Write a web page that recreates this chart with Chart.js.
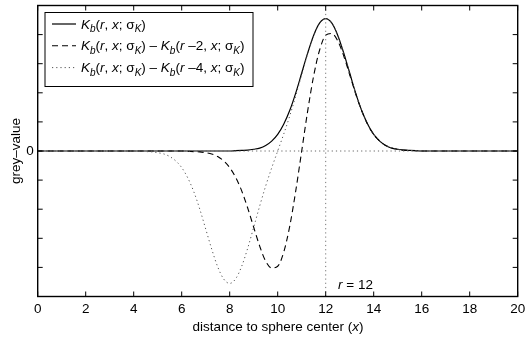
<!DOCTYPE html>
<html>
<head>
<meta charset="utf-8">
<script src="https://cdn.jsdelivr.net/npm/chart.js@4.4.0/dist/chart.umd.min.js"></script>
<style>
  html, body { margin: 0; padding: 0; background: #fff; }
  canvas { display: block; }
</style>
</head>
<body>
<canvas id="Profile_Chart" width="525" height="337"></canvas>
<script>
// values
const xs = [0, 4, 4.25, 4.5, 4.75, 5, 5.25, 5.5, 5.75, 6, 6.25, 6.5, 6.75, 7, 7.25, 7.5, 7.75, 8,
  8.25, 8.5, 8.75, 9, 9.25, 9.5, 9.75, 10, 10.25, 10.5, 10.75, 11, 11.25, 11.5, 11.75, 12,
  12.25, 12.5, 12.75, 13, 13.25, 13.5, 13.75, 14, 14.25, 14.5, 14.75, 15, 15.25, 15.5, 15.75, 16, 20];
const solid = [0, 0, 0, 0, 0, 0, 0, 0, 0, 0, 0, 0, 0, 0, 0, 0, 0, 0,
  0.01, 0.02, 0.03, 0.06, 0.10, 0.19, 0.34, 0.57, 0.92, 1.39, 1.99, 2.68, 3.37, 3.98, 4.40, 4.55,
  4.40, 3.98, 3.37, 2.68, 1.99, 1.39, 0.92, 0.57, 0.34, 0.19, 0.10, 0.06, 0.03, 0.02, 0.01, 0, 0];
const dashed = [0, 0, 0, 0, 0, 0, 0, 0, 0, 0, -0.01, -0.02, -0.03, -0.06, -0.10, -0.19, -0.34, -0.57,
  -0.91, -1.37, -1.96, -2.62, -3.27, -3.79, -4.02, -3.96, -3.48, -2.59, -1.38, 0, 1.38, 2.59, 3.48, 3.98,
  4.04, 3.79, 3.27, 2.62, 1.96, 1.38, 0.91, 0.57, 0.34, 0.19, 0.10, 0.06, 0.03, 0.02, 0.01, 0, 0];
const dotted = [0, 0, -0.01, -0.02, -0.03, -0.06, -0.10, -0.19, -0.34, -0.57, -0.92, -1.39, -1.99, -2.68, -3.37, -3.98, -4.40, -4.55,
  -4.39, -3.96, -3.34, -2.62, -1.89, -1.20, -0.58, 0, 0.58, 1.20, 1.89, 2.62, 3.34, 3.96, 4.39, 4.55,
  4.40, 3.98, 3.37, 2.68, 1.99, 1.39, 0.92, 0.57, 0.34, 0.19, 0.10, 0.06, 0.03, 0.02, 0.01, 0, 0];
const zeroLineX = [0, 20];
const zeroLineY = [0, 0];
const rLineX = [12, 12];
const rLineY = [-5, 5];
const xTicks = [0, 2, 4, 6, 8, 10, 12, 14, 16, 18, 20];
const yLabelTicks = [0];

const FONT = '"Liberation Sans", Arial, Helvetica, sans-serif';
const prof_chart = document.getElementById('Profile_Chart');

function pts(xv, yv) {
  return xv.map((x, i) => ({ x: x, y: yv[i] }));
}

// pieces: [text, italic, subscript]
const termA = [['K',1,0],['b',1,1],['(',0,0],['r',1,0],[', ',0,0],['x',1,0],['; ',0,0],['\u03c3',0,0],['K',1,1],[')',0,0]];
function termMinus(n) {
  return [[' \u2013 ',0,0],['K',1,0],['b',1,1],['(',0,0],['r',1,0],[' \u2013' + n + ', ',0,0],['x',1,0],['; ',0,0],['\u03c3',0,0],['K',1,1],[')',0,0]];
}
const legendRows = [
  { parts: termA, dash: [], color: '#000', width: 1.2 },
  { parts: termA.concat(termMinus(2)), dash: [6, 4], color: '#000', width: 1.1 },
  { parts: termA.concat(termMinus(4)), dash: [1.2, 3], color: '#555', width: 1 }
];

function drawParts(ctx, parts, x, y) {
  ctx.textBaseline = 'alphabetic';
  ctx.textAlign = 'left';
  parts.forEach(p => {
    const size = p[2] ? 10 : 13.5;
    ctx.font = (p[1] ? 'italic ' : '') + size + 'px ' + FONT;
    ctx.fillText(p[0], x, y + (p[2] ? 3.5 : 0));
    x += ctx.measureText(p[0]).width;
  });
  return x;
}

const framePlugin = {
  id: 'frame',
  afterDatasetsDraw(chart) {
    const ctx = chart.ctx;
    const a = chart.chartArea;
    const xs_ = chart.scales.x;
    const ys_ = chart.scales.y;
    ctx.save();
    ctx.strokeStyle = '#000';
    ctx.lineWidth = 1.4;
    ctx.strokeRect(a.left, a.top, a.right - a.left, a.bottom - a.top);
    ctx.lineWidth = 1;
    ctx.beginPath();
    xTicks.forEach(v => {
      const px = xs_.getPixelForValue(v);
      ctx.moveTo(px, a.bottom); ctx.lineTo(px, a.bottom - 5);
      ctx.moveTo(px, a.top); ctx.lineTo(px, a.top + 5);
    });
    for (let v = -4; v <= 4; v++) {
      const py = ys_.getPixelForValue(v);
      ctx.moveTo(a.left, py); ctx.lineTo(a.left + 5, py);
      ctx.moveTo(a.right, py); ctx.lineTo(a.right - 5, py);
    }
    ctx.stroke();

    // legend box
    const lx = 45, ly = 12.5, lw = 208, lh = 74;
    ctx.fillStyle = '#fff';
    ctx.fillRect(lx, ly, lw, lh);
    ctx.strokeStyle = '#000';
    ctx.lineWidth = 1;
    ctx.strokeRect(lx, ly, lw, lh);
    legendRows.forEach((row, i) => {
      const cy = 24 + i * 21.8;
      ctx.beginPath();
      ctx.setLineDash(row.dash);
      ctx.strokeStyle = row.color;
      ctx.lineWidth = row.width;
      ctx.moveTo(52, cy); ctx.lineTo(76, cy);
      ctx.stroke();
      ctx.setLineDash([]);
      ctx.fillStyle = '#000';
      drawParts(ctx, row.parts, 81, cy + 4.5);
    });

    // r = 12 label
    ctx.fillStyle = '#000';
    drawParts(ctx, [['r',1,0],[' = 12',0,0]], 338, 289);

    // axis titles
    const t1 = 'distance to sphere center (';
    ctx.font = '13.5px ' + FONT;
    const w1 = ctx.measureText(t1).width;
    ctx.font = 'italic 13.5px ' + FONT;
    const w2 = ctx.measureText('x').width;
    ctx.font = '13.5px ' + FONT;
    const w3 = ctx.measureText(')').width;
    let tx = 278 - (w1 + w2 + w3) / 2;
    drawParts(ctx, [[t1,0,0],['x',1,0],[')',0,0]], tx, 331);

    ctx.translate(16, 151);
    ctx.rotate(-Math.PI / 2);
    ctx.font = '13.5px ' + FONT;
    ctx.textAlign = 'center';
    ctx.textBaseline = 'middle';
    ctx.fillText('grey\u2013value', 0, 0);
    ctx.restore();
  }
};

function Profile_Chart() {
  new Chart(prof_chart, {
    type: 'line',
    data: {
      datasets: [
        { data: pts(zeroLineX, zeroLineY), borderColor: '#666', borderWidth: 1, borderDash: [1.2, 3] },
        { data: pts(rLineX, rLineY), borderColor: '#777', borderWidth: 1, borderDash: [1.2, 3] },
        { data: pts(xs, dotted), borderColor: '#555', borderWidth: 1, borderDash: [1.2, 3], cubicInterpolationMode: 'monotone' },
        { data: pts(xs, dashed), borderColor: '#000', borderWidth: 1.1, borderDash: [6, 4], cubicInterpolationMode: 'monotone' },
        { data: pts(xs, solid), borderColor: '#000', borderWidth: 1.2, cubicInterpolationMode: 'monotone' }
      ]
    },
    options: {
      responsive: false,
      animation: false,
      devicePixelRatio: 1,
      layout: { padding: { left: 0, right: 7.3, top: 5.5, bottom: 0 } },
      elements: { point: { radius: 0 }, line: { fill: false } },
      plugins: { legend: { display: false }, tooltip: { enabled: false } },
      scales: {
        x: {
          type: 'linear', min: 0, max: 20,
          grid: { display: false, drawTicks: false },
          border: { display: false },
          afterFit: s => { s.height = 40.5; s.paddingLeft = 0; s.paddingRight = 0; },
          afterBuildTicks: s => { s.ticks = xTicks.map(v => ({ value: v })); },
          ticks: { padding: 5, color: '#000', font: { family: FONT, size: 13.5 }, maxRotation: 0 }
        },
        y: {
          type: 'linear', min: -5, max: 5,
          grid: { display: false, drawTicks: false },
          border: { display: false },
          afterFit: s => { s.width = 37.7; s.paddingTop = 0; s.paddingBottom = 0; },
          afterBuildTicks: s => { s.ticks = yLabelTicks.map(v => ({ value: v })); },
          ticks: { padding: 4, color: '#000', font: { family: FONT, size: 13.5 } }
        }
      }
    },
    plugins: [framePlugin]
  });
}
Profile_Chart()
</script>
</body>
</html>
